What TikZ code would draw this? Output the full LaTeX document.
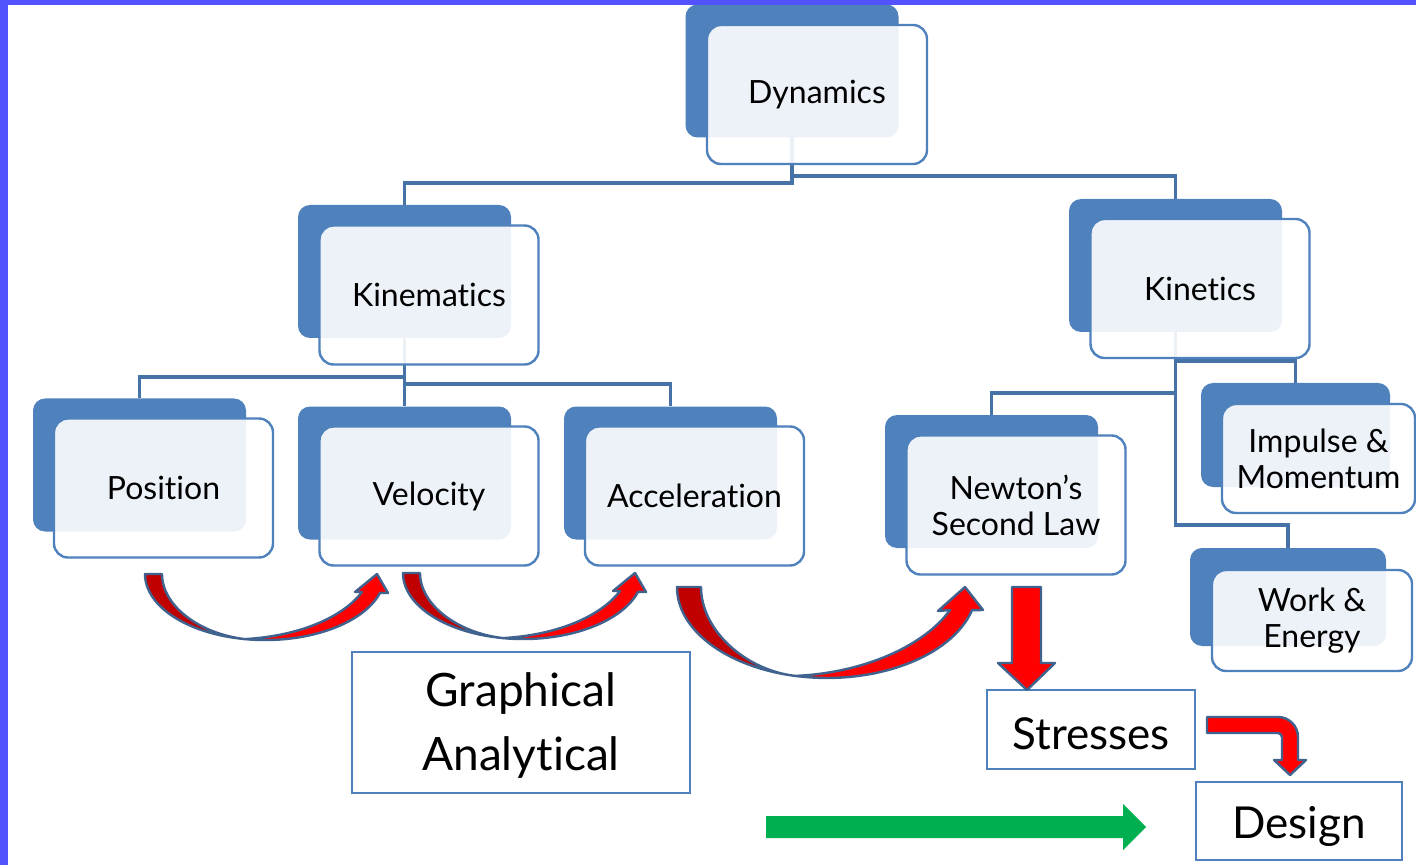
\documentclass[tikz,border=0pt]{standalone}
\usepackage{fontspec}
\setmainfont{Lato}[Ligatures={NoCommon,NoRare,NoContextual}]
\definecolor{accent}{RGB}{79,129,189}
\definecolor{conncol}{RGB}{69,114,167}
\definecolor{framecol}{RGB}{82,82,255}
\definecolor{darkredfill}{RGB}{192,0,0}
\definecolor{brightredfill}{RGB}{255,0,0}
\definecolor{outl}{RGB}{64,98,142}
\definecolor{arrowgreen}{RGB}{0,176,80}
\pgfdeclarelayer{bg}
\pgfsetlayers{bg,main}
\begin{document}
\begin{tikzpicture}[x=0.5pt,y=-0.5pt,
  backbox/.style={draw=none, fill=accent, rounded corners=6pt, minimum width=106.5pt, minimum height=66.5pt, inner sep=0pt},
  frontbox/.style={draw=accent, line width=1.2pt, fill=white, fill opacity=0.9, text opacity=1, rounded corners=7pt, minimum width=109.5pt, minimum height=69.5pt, inner sep=0pt, align=center, font=\fontsize{16}{18}\selectfont},
  conn/.style={draw=conncol, line width=1.6pt},
  plainbox/.style={draw=accent, line width=1.2pt, fill=white, inner sep=0pt, align=center},
  blockarrow/.style={draw=outl, line width=1.2pt, line join=round},
]
\useasboundingbox (0,0) rectangle (1416,865);

% back boxes
\node[backbox] (dynb) at (792,71) {};
\node[backbox] (kinb) at (404.5,271.5) {};
\node[backbox] (kintb) at (1175.5,265.5) {};
\node[backbox] (posb) at (139.5,465) {};
\node[backbox] (velb) at (404.5,473) {};
\node[backbox] (accb) at (670.5,473) {};
\node[backbox] (newtb) at (991.5,481.5) {};
\node[backbox, minimum width=94.5pt, minimum height=52pt] (impb) at (1295.5,435) {};
\node[backbox, minimum width=98pt, minimum height=49pt] (workb) at (1288,597) {};

% front boxes
\node[frontbox, minimum width=110pt] (dyn) at (817,94.5) {Dynamics};
\node[frontbox] (kin) at (429,295) {Kinematics};
\node[frontbox] (kint) at (1200,288.5) {Kinetics};
\node[frontbox] (pos) at (163.5,488) {Position};
\node[frontbox] (vel) at (429,496) {Velocity};
\node[frontbox] (acc) at (694.5,496) {Acceleration};
\node[frontbox] (newt) at (1016,505) {Newton’s\\Second Law};
\node[frontbox, minimum width=96.5pt, minimum height=54.5pt] (imp) at (1318.5,458.5) {Impulse \&\\Momentum};
\node[frontbox, minimum width=100pt, minimum height=50.5pt] (work) at (1312,620.5) {Work \&\\Energy};

% connectors (behind the boxes)
\begin{pgfonlayer}{bg}
\fill[white] (0,0) rectangle (1416,865);
\draw[conn] (dynb.center) -- (dynb.center |- 0,183) -| (kinb.north);
\draw[conn] (dynb.center |- 0,176) -| (kintb.north);
\draw[conn] (kinb.center) -- (velb.north);
\draw[conn] (kinb.center |- 0,377) -| (posb.north);
\draw[conn] (kinb.center |- 0,384) -| (accb.north);
\draw[conn] (kintb.center) -- (kintb.center |- 0,525) -| (workb.north);
\draw[conn] (kintb.center |- 0,361) -| (impb.north);
\draw[conn] (kintb.center |- 0,393) -| (newtb.north);
\end{pgfonlayer}

% plain boxes
\node[plainbox, minimum width=169pt, minimum height=70.5pt] (graph) at (521,722.5) {};
\node[font=\fontsize{23}{32}\selectfont, align=center, inner sep=0pt] (graphtxt) at ([yshift=-1.5pt]graph.center) {Graphical\\Analytical};
\node[plainbox, minimum width=104pt, minimum height=39.5pt] (stress) at (1091,729.5) {};
\node[font=\fontsize{22}{26}\selectfont, inner sep=0pt] (stresstxt) at ([yshift=-2pt]stress.center) {Stresses};
\node[plainbox, minimum width=103pt, minimum height=39pt] (design) at (1299,821) {};
\node[font=\fontsize{22}{26}\selectfont, inner sep=0pt] (designtxt) at ([yshift=-2.5pt]design.center) {Design};

% curved arrows 1 and 2
\foreach \dx/\dy in {0/0, 258/-1}{
\begin{scope}[shift={(\dx,\dy)}]
\path[blockarrow, fill=darkredfill] (145,574) -- (162,574) .. controls (162,606) and (200,634) .. (245,639.1) arc[start angle=99.6, end angle=180, x radius=120, y radius=66] -- cycle;
\path[blockarrow, fill=brightredfill] (245,639.1) .. controls (300,636) and (343,617) .. (362,592) -- (355,592) -- (377,574) -- (388,593) -- (380,592.9) arc[start angle=16.6, end angle=99.6, x radius=120, y radius=66] -- cycle;
\end{scope}
}
% curved arrow 3
\path[blockarrow, fill=darkredfill] (677,587) -- (701,587) .. controls (701,630) and (745,670) .. (795,675.9) arc[start angle=102.3, end angle=180, x radius=150, y radius=91] -- cycle;
\path[blockarrow, fill=brightredfill] (795,675.9) .. controls (865,673) and (925,645) .. (950,610) -- (938,611) -- (965,587) -- (983,610) -- (972,610.2) arc[start angle=14.8, end angle=102.3, x radius=150, y radius=91] -- cycle;

% straight down arrow
\path[blockarrow, fill=brightredfill] (1012,587) -- (1041,587) -- (1041,663) -- (1055,663) -- (1027,690) -- (998,663) -- (1012,663) -- cycle;

% bent arrow
\path[blockarrow, fill=brightredfill] (1207,717) -- (1278,717) .. controls (1289,717) and (1298,726) .. (1298,737) -- (1298,760) -- (1306,760) -- (1290,775) -- (1274,760) -- (1282,760) -- (1282,737) .. controls (1282,735) and (1280,733) .. (1278,733) -- (1207,733) -- cycle;

% green arrow
\fill[arrowgreen] (766,816) -- (1123,816) -- (1123,804) -- (1146,827) -- (1123,850) -- (1123,838) -- (766,838) -- cycle;

% frame
\fill[framecol] (0,0) rectangle (1416,5);
\fill[framecol] (0,0) rectangle (8,865);
\end{tikzpicture}
\end{document}
